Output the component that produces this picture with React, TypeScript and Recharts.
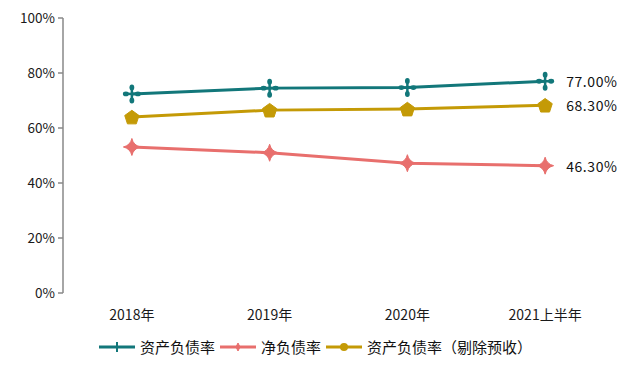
import React from 'react';
import { LineChart, Line, XAxis, YAxis, LabelList } from 'recharts';

const categories = ['2018年', '2019年', '2020年', '2021上半年'];
const assetLiability = [72.4, 74.5, 74.7, 77.0];
const netDebt = [53.1, 51.0, 47.2, 46.3];
const assetLiabilityExAdv = [64.0, 66.5, 66.9, 68.3];
const yTicks = [0, 20, 40, 60, 80, 100];
const boundaryTicks = [0, 1, 2, 3, 4];

const seriesNames = ['资产负债率', '净负债率', '资产负债率（剔除预收）'];
const colors = ['#12777a', '#e86f6d', '#c49a06'];

const data = categories.map((c, i) => ({
  name: c,
  a: assetLiability[i],
  n: netDebt[i],
  e: assetLiabilityExAdv[i],
}));

const CrossDot = (props: any) => {
  const { cx, cy } = props;
  if (cx == null || cy == null) return null;
  const c = colors[0];
  return (
    <g>
      <line x1={cx - 7} y1={cy} x2={cx + 7} y2={cy} stroke={c} strokeWidth={2.5} />
      <line x1={cx} y1={cy - 8} x2={cx} y2={cy + 8} stroke={c} strokeWidth={2.5} />
      <ellipse cx={cx} cy={cy - 6.5} rx={2.4} ry={3} fill={c} />
      <ellipse cx={cx} cy={cy + 6.5} rx={2.4} ry={3} fill={c} />
      <ellipse cx={cx - 6} cy={cy} rx={3} ry={2.4} fill={c} />
      <ellipse cx={cx + 6} cy={cy} rx={3} ry={2.4} fill={c} />
    </g>
  );
};

const StarDot = (props: any) => {
  const { cx, cy } = props;
  if (cx == null || cy == null) return null;
  const r = 8.5;
  const q = 1.6;
  const d = `M${cx},${cy - r} Q${cx + q},${cy - q} ${cx + r},${cy} Q${cx + q},${cy + q} ${cx},${cy + r} Q${cx - q},${cy + q} ${cx - r},${cy} Q${cx - q},${cy - q} ${cx},${cy - r} Z`;
  return <path d={d} fill={colors[1]} stroke={colors[1]} strokeWidth={1} />;
};

const PentDot = (props: any) => {
  const { cx, cy } = props;
  if (cx == null || cy == null) return null;
  const r = 7.5;
  const pts = [0, 1, 2, 3, 4]
    .map((k) => {
      const ang = -Math.PI / 2 + (k * 2 * Math.PI) / 5;
      return `${cx + r * Math.cos(ang)},${cy + 0.8 + r * Math.sin(ang)}`;
    })
    .join(' ');
  return <polygon points={pts} fill={colors[2]} stroke={colors[2]} strokeWidth={1} strokeLinejoin="round" />;
};

const lastLabel = (dy: number) => (props: any) => {
  const { x, y, value, index } = props;
  if (index !== categories.length - 1) return null;
  return (
    <text
      x={x + 21}
      y={y + dy}
      fontSize={14}
      fill="#111"
      dominantBaseline="central"
      letterSpacing={0.6}
      fontFamily="'Noto Sans CJK SC', sans-serif"
    >
      {`${Number(value).toFixed(2)}%`}
    </text>
  );
};

const LegendIcon = ({ color, kind }: { color: string; kind: number }) => (
  <svg width={38} height={12} style={{ verticalAlign: 'middle' }}>
    <line x1={1} y1={6} x2={37} y2={6} stroke={color} strokeWidth={3} />
    {kind === 0 && <line x1={19} y1={1} x2={19} y2={11} stroke={color} strokeWidth={2} />}
    {kind === 1 && <path d="M19,2 L21,6 L19,10 L17,6 Z M14,6 L24,6" fill={color} stroke={color} strokeWidth={1} />}
    {kind === 2 && <circle cx={19} cy={6} r={4} fill={color} />}
  </svg>
);

export default function App() {
  return (
    <div style={{ position: 'absolute', left: 0, top: 0, width: 640, height: 374, background: '#fff' }}>
      <LineChart
        width={640}
        height={374}
        data={data}
        margin={{ top: 18, right: 26, bottom: 41, left: 0 }}
      >
        <XAxis
          xAxisId="b"
          type="number"
          domain={[0, 4]}
          ticks={boundaryTicks}
          height={0}
          tick={false}
          tickSize={6}
          axisLine={{ stroke: '#888', strokeWidth: 1.5 }}
          tickLine={{ stroke: '#888', strokeWidth: 1.5 }}
          allowDataOverflow
        />
        <XAxis
          dataKey="name"
          scale="band"
          axisLine={false}
          tickLine={false}
          tick={{ fill: '#1a1a1a', fontSize: 14, fontFamily: "'Noto Sans CJK SC', sans-serif" }}
          tickMargin={11}
          height={40}
          interval={0}
        />
        <YAxis
          domain={[0, 100]}
          ticks={yTicks}
          width={63}
          tickFormatter={(v: number) => `${v}%`}
          tick={{ fill: '#1a1a1a', fontSize: 13.5, fontFamily: "'Noto Sans CJK SC', sans-serif" }}
          axisLine={{ stroke: '#888', strokeWidth: 1.5 }}
          tickLine={{ stroke: '#888', strokeWidth: 1.5 }}
          tickSize={5}
          tickMargin={3}
        />
        <Line
          dataKey="a"
          name={seriesNames[0]}
          stroke={colors[0]}
          strokeWidth={3}
          dot={<CrossDot />}
          isAnimationActive={false}
        >
          <LabelList dataKey="a" content={lastLabel(0)} />
        </Line>
        <Line
          dataKey="n"
          name={seriesNames[1]}
          stroke={colors[1]}
          strokeWidth={3}
          dot={<StarDot />}
          isAnimationActive={false}
        >
          <LabelList dataKey="n" content={lastLabel(0)} />
        </Line>
        <Line
          dataKey="e"
          name={seriesNames[2]}
          stroke={colors[2]}
          strokeWidth={3}
          dot={<PentDot />}
          isAnimationActive={false}
        >
          <LabelList dataKey="e" content={lastLabel(0)} />
        </Line>
      </LineChart>
      <div
        style={{
          position: 'absolute',
          left: 98,
          top: 337,
          display: 'flex',
          alignItems: 'center',
          fontSize: 15,
          fontFamily: "'Noto Sans CJK SC', sans-serif",
          color: '#111',
          whiteSpace: 'nowrap',
          lineHeight: '20px',
        }}
      >
        {seriesNames.map((n, i) => (
          <span key={n} style={{ display: 'flex', alignItems: 'center', marginRight: 4 }}>
            <LegendIcon color={colors[i]} kind={i} />
            <span style={{ marginLeft: 4 }}>{n}</span>
          </span>
        ))}
      </div>
    </div>
  );
}
